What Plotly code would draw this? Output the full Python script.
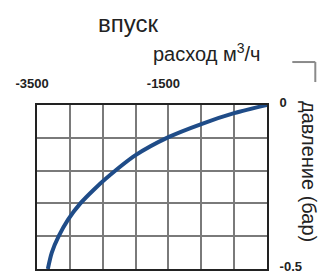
import plotly.graph_objects as go

# Data
flow = [-3335, -3275, -3170, -3030, -2840, -2640, -2455, -2000, -1500, -1000, -500, 0]
pressure = [-0.5, -0.45, -0.4, -0.35, -0.3, -0.259, -0.225, -0.153, -0.098, -0.058, -0.025, 0]

x_ticks = [-3500, -3000, -2500, -2000, -1500, -1000, -500, 0]
x_labels = ["-3500", "", "", "", "-1500", "", "", ""]
y_ticks = [0, -0.1, -0.2, -0.3, -0.4, -0.5]
y_labels = ["0", "", "", "", "", "-0.5"]

title_text = "впуск"
x_title = "расход м<sup>3</sup>/ч"
y_title = "давление (бар)"

FONT = "Liberation Sans, Arial, Helvetica, sans-serif"

fig = go.Figure()
fig.add_trace(go.Scatter(
    x=flow, y=pressure, mode="lines",
    line=dict(color="#1f4c88", width=4, shape="spline", smoothing=0.8),
    hoverinfo="skip", showlegend=False, cliponaxis=False,
))

fig.update_layout(
    width=321, height=273,
    margin=dict(l=37, r=54, t=105, b=4),
    paper_bgcolor="white", plot_bgcolor="white",
    font=dict(family=FONT, color="#222222"),
    xaxis=dict(
        range=[-3500, 0], side="top", automargin=False,
        tickvals=x_ticks, ticktext=x_labels,
        showgrid=True, gridcolor="#7a7a7a", gridwidth=1.5,
        showline=True, linecolor="#222222", linewidth=2, mirror=True,
        zeroline=False, ticks="",
        tickfont=dict(family=FONT, size=13, color="#222222", weight="bold"),
        ticklabelstandoff=10, ticklabelshift=-5,
        fixedrange=True,
    ),
    yaxis=dict(
        range=[-0.5, 0], side="right", automargin=False,
        tickvals=y_ticks, ticktext=y_labels,
        showgrid=True, gridcolor="#7a7a7a", gridwidth=1.5,
        showline=True, linecolor="#222222", linewidth=2, mirror=True,
        zeroline=False, ticks="",
        tickfont=dict(family=FONT, size=13, color="#222222", weight="bold"),
        ticklabelstandoff=8, ticklabelshift=-3, ticklabeloverflow="allow",
        fixedrange=True,
    ),
    annotations=[
        dict(text=title_text, xref="paper", yref="paper", x=0.395, y=1.50,
             showarrow=False, xanchor="center", yanchor="middle",
             font=dict(family=FONT, size=24, color="#222222")),
        dict(text=x_title, xref="paper", yref="paper", x=0.735, y=1.32,
             showarrow=False, xanchor="center", yanchor="middle",
             font=dict(family=FONT, size=20, color="#222222")),
        dict(text=y_title, xref="paper", yref="paper", x=1.18, y=0.595,
             showarrow=False, xanchor="center", yanchor="middle", textangle=90,
             font=dict(family=FONT, size=20, color="#222222")),
    ],
    shapes=[
        dict(type="line", xref="paper", yref="paper",
             x0=1.11, x1=1.21, y0=1.262, y1=1.262,
             line=dict(color="#8a8a8a", width=2)),
        dict(type="line", xref="paper", yref="paper",
             x0=1.21, x1=1.21, y0=1.262, y1=1.14,
             line=dict(color="#8a8a8a", width=2)),
    ],
)

fig.write_html("out.html", config={"displayModeBar": False},
               post_script="document.body.style.margin='0';")
